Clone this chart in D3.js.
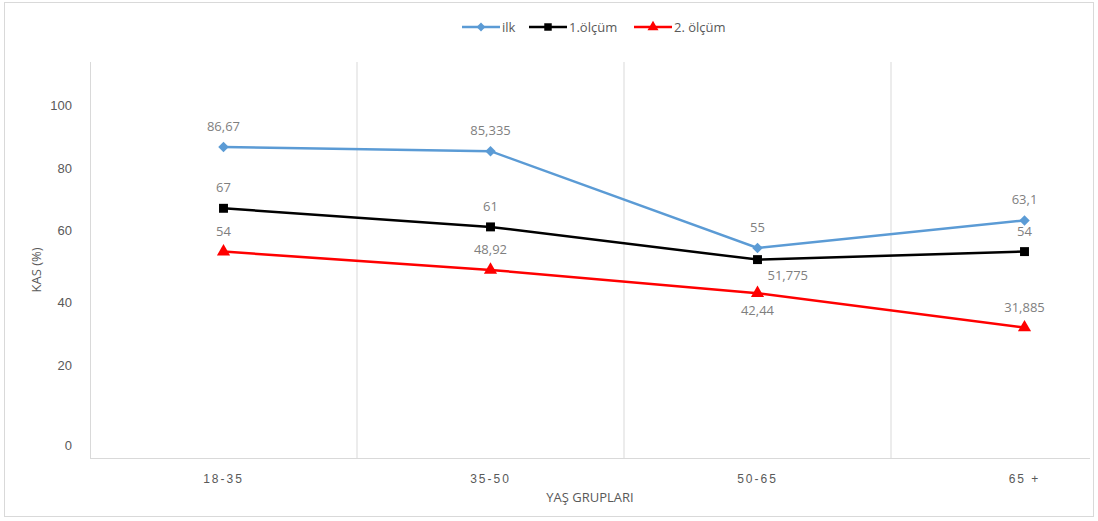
<!DOCTYPE html>
<html>
<head>
<meta charset="utf-8">
<script src="https://cdn.jsdelivr.net/npm/d3@7"></script>
<style>
  html, body { margin: 0; padding: 0; background: #fff; }
  svg { display: block; font-family: "Open Sans", "Noto Sans", sans-serif; }
</style>
</head>
<body>
<svg id="chart" width="1098" height="521"></svg>
<script>
// Age groups and the three KAS (%) measurements
const categories = ["18-35", "35-50", "50-65", "65 +"];
const seriesNames = ["ilk", "1.ölçüm", "2. ölçüm"];
const ilk = [86.67, 85.335, 55, 63.1];
const olcum1 = [67, 61, 51.775, 54];
const olcum2 = [54, 48.92, 42.44, 31.885];
const yTicks = [0, 20, 40, 60, 80, 100];

const colors = ["#5B9BD5", "#000000", "#FF0000"];
// diamond = square turned by 45 degrees
const symbols = [d3.symbolSquare, d3.symbolSquare, d3.symbolTriangle];
const symbolRotate = [45, 0, 0];
const symbolSizes = [55, 80, 75];
const seriesValues = [ilk, olcum1, olcum2];

const svg = d3.select("#chart");

// outer chart frame
svg.append("rect")
  .attr("x", 4.5).attr("y", 2.5)
  .attr("width", 1089).attr("height", 514)
  .attr("fill", "#fff").attr("stroke", "#d9d9d9");

const plotTop = 62, plotBottom = 458, plotLeft = 90, plotRight = 1090;

const x = d3.scaleBand()
  .domain(categories)
  .range([plotLeft, plotLeft + 4 * 267]);

// value axis with its tick stops
const y = d3.scaleLinear()
  .domain(yTicks)
  .range([445, 365, 302, 230, 168, 105]);

// category separators
svg.append("g")
  .selectAll("line")
  .data(categories.slice(1))
  .join("line")
  .attr("x1", d => x(d)).attr("x2", d => x(d))
  .attr("y1", plotTop).attr("y2", plotBottom)
  .attr("stroke", "#d9d9d9").attr("stroke-width", 1);

// plot area left and bottom borders
svg.append("line")
  .attr("x1", plotLeft + 0.5).attr("x2", plotLeft + 0.5)
  .attr("y1", plotTop).attr("y2", plotBottom)
  .attr("stroke", "#d9d9d9");
svg.append("line")
  .attr("x1", plotLeft).attr("x2", plotRight)
  .attr("y1", plotBottom + 0.5).attr("y2", plotBottom + 0.5)
  .attr("stroke", "#d9d9d9");

// y axis
const yAxis = svg.append("g")
  .attr("transform", `translate(${plotLeft - 18},0)`)
  .call(d3.axisLeft(y).tickValues(yTicks).tickSize(0).tickPadding(0));
yAxis.select(".domain").remove();
yAxis.selectAll("text")
  .attr("fill", "#595959").attr("font-size", 13);

// x axis labels
const xAxis = svg.append("g")
  .attr("transform", `translate(0,${plotBottom})`)
  .call(d3.axisBottom(x).tickSize(0).tickPadding(16));
xAxis.select(".domain").remove();
xAxis.selectAll("text")
  .attr("fill", "#595959").attr("font-size", 12)
  .attr("letter-spacing", "2px");

// axis titles
svg.append("text")
  .attr("x", 590).attr("y", 502)
  .attr("text-anchor", "middle")
  .attr("fill", "#595959").attr("font-size", 13)
  .text("YAŞ GRUPLARI");
svg.append("text")
  .attr("transform", "translate(41,270) rotate(-90)")
  .attr("text-anchor", "middle")
  .attr("fill", "#595959").attr("font-size", 13)
  .text("KAS (%)");

const cx = d => x(d) + x.bandwidth() / 2;
const line = d3.line()
  .x(d => cx(d.cat))
  .y(d => y(d.value));

const fmt = v => String(v).replace(".", ",");

// label placement: above by default, moved aside where labels would collide
function labelPos(seriesIdx, catIdx) {
  if (seriesIdx === 1 && catIdx === 2) return { dx: 10, dy: 20, anchor: "start" };
  if (seriesIdx === 2 && catIdx === 2) return { dx: 0, dy: 22, anchor: "middle" };
  return { dx: 0, dy: -16, anchor: "middle" };
}

seriesValues.forEach((vals, i) => {
  const pts = categories.map((c, j) => ({ cat: c, idx: j, value: vals[j] }));
  const g = svg.append("g");
  g.append("path")
    .datum(pts)
    .attr("d", line)
    .attr("fill", "none")
    .attr("stroke", colors[i])
    .attr("stroke-width", 2.5);
  g.selectAll("path.mark")
    .data(pts)
    .join("path")
    .attr("class", "mark")
    .attr("transform", d => `translate(${cx(d.cat)},${y(d.value)}) rotate(${symbolRotate[i]})`)
    .attr("d", d3.symbol().type(symbols[i]).size(symbolSizes[i]))
    .attr("fill", colors[i]);
  g.selectAll("text")
    .data(pts)
    .join("text")
    .attr("x", d => cx(d.cat) + labelPos(i, d.idx).dx)
    .attr("y", d => y(d.value) + labelPos(i, d.idx).dy)
    .attr("text-anchor", d => labelPos(i, d.idx).anchor)
    .attr("fill", "#7f7f7f").attr("font-size", 13)
    .text(d => fmt(d.value));
});

// legend
const legendX = [462, 529, 634];
const legend = svg.append("g");
seriesNames.forEach((name, i) => {
  const lg = legend.append("g").attr("transform", `translate(${legendX[i]},27)`);
  lg.append("line")
    .attr("x1", 0).attr("x2", 38)
    .attr("stroke", colors[i]).attr("stroke-width", 2.5);
  lg.append("path")
    .attr("transform", `translate(19,0) rotate(${symbolRotate[i]})`)
    .attr("d", d3.symbol().type(symbols[i]).size(symbolSizes[i] * 0.7))
    .attr("fill", colors[i]);
  lg.append("text")
    .attr("x", 40).attr("y", 5)
    .attr("fill", "#595959").attr("font-size", 13)
    .text(name);
});
</script>
</body>
</html>
